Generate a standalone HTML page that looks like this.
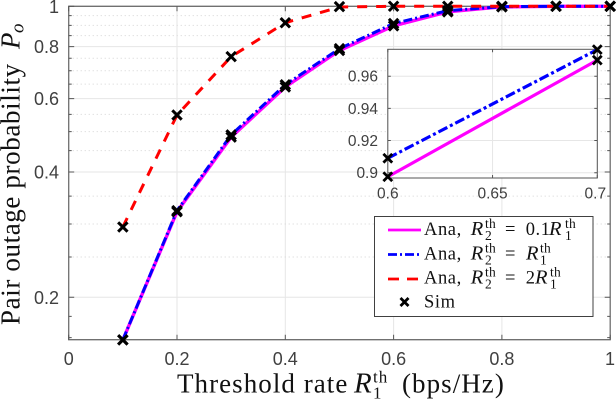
<!DOCTYPE html>
<html>
<head>
<meta charset="utf-8">
<style>
html,body{margin:0;padding:0;background:#fff;width:616px;height:400px;overflow:hidden}
svg{display:block}
.tick{font-family:"Liberation Sans",sans-serif;font-size:18px;fill:#404040}
.math{font-family:"Liberation Serif",serif;fill:#111}
.i{font-style:italic}
.leg{font-size:18.5px;letter-spacing:.6px}
.sm{font-size:13.5px;letter-spacing:.2px}
.r{font-size:20.5px}
</style>
</head>
<body>
<svg id="chart" xmlns="http://www.w3.org/2000/svg" width="616" height="400" viewBox="0 0 616 400">
<rect width="616" height="400" fill="#fff"/>
<g id="main"></g>
<g id="inset"></g>
<text class="math" y="392.7" font-size="27" letter-spacing="1.05"><tspan x="177">Threshold rate</tspan><tspan class="i" x="354" font-size="29">R</tspan><tspan font-size="17" x="373" y="398.3">1</tspan><tspan font-size="17" x="373" y="382.5">th</tspan><tspan x="402" y="392.7">(bps/Hz)</tspan></text>
<text class="math" transform="translate(19.3,325) rotate(-90)" font-size="27" letter-spacing="0.62"><tspan x="0" y="0">Pair outage probability</tspan><tspan class="i" x="276" y="0">P</tspan><tspan class="i" font-size="19" x="292" y="4">o</tspan></text>
<g>
<rect x="374.5" y="216.5" width="218.5" height="100" fill="#fff" stroke="#404040" stroke-width="1"/>
<line x1="388" x2="421" y1="230" y2="230" stroke="#ff00ff" stroke-width="2.8"/>
<line x1="388" x2="421" y1="254.5" y2="254.5" stroke="#0000ff" stroke-width="2.8" stroke-dasharray="9 3 2 3"/>
<line x1="388" x2="421" y1="279" y2="279" stroke="#ff0000" stroke-width="2.8" stroke-dasharray="11 8"/>
<path d="M400.5 298l8 8M408.5 298l-8 8" stroke="#000" stroke-width="2.8" fill="none"/>
<text class="math leg" y="235"><tspan x="424">Ana,</tspan><tspan class="i r" x="470.7">R</tspan><tspan class="sm" x="485" y="240">2</tspan><tspan class="sm" x="485" y="228">th</tspan><tspan x="505" y="235">=</tspan><tspan x="525.7">0.1</tspan><tspan class="i r" x="549">R</tspan><tspan class="sm" x="565" y="240">1</tspan><tspan class="sm" x="565" y="228">th</tspan></text>
<text class="math leg" y="259.3"><tspan x="424">Ana,</tspan><tspan class="i r" x="470.7">R</tspan><tspan class="sm" x="485" y="264.3">2</tspan><tspan class="sm" x="485" y="252.3">th</tspan><tspan x="505" y="259.3">=</tspan><tspan class="i r" x="526">R</tspan><tspan class="sm" x="540" y="264.3">1</tspan><tspan class="sm" x="540" y="252.3">th</tspan></text>
<text class="math leg" y="283.3"><tspan x="424">Ana,</tspan><tspan class="i r" x="470.7">R</tspan><tspan class="sm" x="485" y="288.3">2</tspan><tspan class="sm" x="485" y="276.3">th</tspan><tspan x="505" y="283.3">=</tspan><tspan x="525.7">2</tspan><tspan class="i r" x="535">R</tspan><tspan class="sm" x="550" y="288.3">1</tspan><tspan class="sm" x="550" y="276.3">th</tspan></text>
<text class="math leg" x="424" y="307.7">Sim</text>
</g>
</svg>
<script>
const xValues = [0.1, 0.2, 0.3, 0.4, 0.5, 0.6, 0.7, 0.8, 0.9, 1.0];
const anaTenth = [0.158, 0.321, 0.485, 0.640, 0.783, 0.8975, 0.970, 0.997, 1, 1];
const anaEqual = [0.158, 0.323, 0.491, 0.648, 0.791, 0.909, 0.9765, 0.998, 1, 1];
const anaDouble = [0.295, 0.548, 0.757, 0.913, 0.996, 1, 1, 1, 1, 1];
const simTenth = [0.158, 0.321, 0.485, 0.640, 0.783, 0.8975, 0.970, 0.997, 1, 1];
const simEqual = [0.158, 0.323, 0.491, 0.648, 0.791, 0.909, 0.9765, 0.998, 1, 1];
const simDouble = [0.295, 0.548, 0.757, 0.913, 0.998, 1, 1, 1, 1, 1];
const mainXTicks = [0, 0.2, 0.4, 0.6, 0.8, 1];
const mainYTicks = [0.2, 0.4, 0.6, 0.8, 1];
const mainYMinor = [0.25, 0.3, 0.35, 0.45, 0.5, 0.55, 0.65, 0.7, 0.75, 0.85, 0.9, 0.95];
const mainYMinorTickOnly = [0.16, 0.18];
const insetXTicks = [0.6, 0.65, 0.7];
const insetYTicks = [0.9, 0.92, 0.94, 0.96];

const NS = 'http://www.w3.org/2000/svg';
function el(parent, tag, attrs, text) {
  const e = document.createElementNS(NS, tag);
  for (const k in attrs) e.setAttribute(k, attrs[k]);
  if (text !== undefined) e.textContent = text;
  parent.appendChild(e);
  return e;
}
const mL = 68.7, mR = 610.2, mT = 6.3, mB = 339.7;
const mx = v => mL + v * (mR - mL);
const my = v => mT - Math.log10(v) * 416.3;
const iL = 387.8, iR = 597.3, iT = 49.3, iB = 178;
const ix = v => iL + (v - 0.6) / 0.1 * (iR - iL);
const iy = v => 172.7 - (v - 0.9) / 0.02 * 32.17;

const main = document.getElementById('main');
const inset = document.getElementById('inset');

mainXTicks.forEach(t => {
  const g = el(main, 'line', {x1: mx(t), x2: mx(t), y1: mT, y2: mB, stroke: '#e6e6e6', 'stroke-width': 1});
  
  
});
mainYTicks.forEach(t => {
  const g = el(main, 'line', {x1: mL, x2: mR, y1: my(t), y2: my(t), stroke: '#e6e6e6', 'stroke-width': 1});
  
  
});
mainYMinor.forEach(t => {
  const g = el(main, 'line', {x1: mL, x2: mR, y1: my(t), y2: my(t), stroke: '#d4d4d4', 'stroke-width': 1, 'stroke-dasharray': '1 3'});
  
  
});

const frame = el(main, 'path', {d: `M${mL} ${mT}H${mR}V${mB}H${mL}Z`, fill: 'none', stroke: '#707070', 'stroke-width': 1.3});



mainXTicks.forEach(t => {
  const k = el(main, 'path', {d: `M${mx(t)} ${mB}v-5M${mx(t)} ${mT}v5`, stroke: '#555', 'stroke-width': 1, fill: 'none'});
  
  
  const l = el(main, 'text', {class: 'tick', x: t === 1 ? 610 : mx(t), y: 365, 'text-anchor': 'middle'}, String(t));
  
  
});
mainYTicks.forEach(t => {
  const k = el(main, 'path', {d: `M${mL} ${my(t)}h5.5M${mR} ${my(t)}h-5.5`, stroke: '#555', 'stroke-width': 1, fill: 'none'});
  
  
  const l = el(main, 'text', {class: 'tick', x: 59, y: t === 1 ? 13 : my(t) + 6.5, 'text-anchor': 'end'}, String(t));
  
  
});
mainYMinor.concat(mainYMinorTickOnly).forEach(t => {
  const k = el(main, 'path', {d: `M${mL} ${my(t)}h3M${mR} ${my(t)}h-3`, stroke: '#555', 'stroke-width': 1, fill: 'none'});
  
  
});

function points(xs, ys, fx, fy) {
  return xs.map((x, i) => fx(x) + ',' + fy(ys[i])).join(' ');
}
const styles = [
  {name: 'series-ana-tenth', vals: anaTenth, color: '#ff00ff', dash: '', width: 3.4},
  {name: 'series-ana-equal', vals: anaEqual, color: '#0000ff', dash: '9 3 2 3', width: 3},
  {name: 'series-ana-double', vals: anaDouble, color: '#ff0000', dash: '10 9', width: 3}
];
styles.forEach(s => {
  const p = el(main, 'polyline', {points: points(xValues, s.vals, mx, my), fill: 'none', stroke: s.color, 'stroke-width': s.width, 'stroke-dasharray': s.dash});
  
  
});
function marker(parent, x, y, r, w) {
  const m = el(parent, 'path', {d: `M${x - r} ${y - r}L${x + r} ${y + r}M${x + r} ${y - r}L${x - r} ${y + r}`, stroke: '#000', 'stroke-width': w, fill: 'none'});
  
  
}
[simTenth, simEqual, simDouble].forEach(arr => {
  xValues.forEach((x, i) => marker(main, mx(x), my(arr[i]), 4.7, 3));
});

/* inset */
const bg = el(inset, 'rect', {x: iL, y: iT, width: iR - iL, height: iB - iT, fill: '#fff'});


insetXTicks.forEach(t => {
  const g = el(inset, 'line', {x1: ix(t), x2: ix(t), y1: iT, y2: iB, stroke: '#e6e6e6', 'stroke-width': 1});
  
  
  const k = el(inset, 'path', {d: `M${ix(t)} ${iB}v-3M${ix(t)} ${iT}v3`, stroke: '#555', 'stroke-width': 1, fill: 'none'});
  
  
  const l = el(inset, 'text', {class: 'tick', x: t === 0.7 ? ix(t) - 2 : ix(t), y: 198.5, 'text-anchor': 'middle', style: 'font-size:15.5px'}, String(t));
  
  
});
insetYTicks.forEach(t => {
  const g = el(inset, 'line', {x1: iL, x2: iR, y1: iy(t), y2: iy(t), stroke: '#e6e6e6', 'stroke-width': 1});
  
  
  const k = el(inset, 'path', {d: `M${iL} ${iy(t)}h3M${iR} ${iy(t)}h-3`, stroke: '#555', 'stroke-width': 1, fill: 'none'});
  
  
  const l = el(inset, 'text', {class: 'tick', x: 378, y: iy(t) + 5.5, 'text-anchor': 'end', style: 'font-size:15.5px'}, String(t));
  
  
});
const iframeBox = el(inset, 'rect', {x: iL, y: iT, width: iR - iL, height: iB - iT, fill: 'none', stroke: '#555', 'stroke-width': 1});



const i6 = xValues.indexOf(0.6), i7 = xValues.indexOf(0.7);
const insetXs = [xValues[i6], xValues[i7]];
const lineT = el(inset, 'polyline', {points: points(insetXs, [anaTenth[i6], anaTenth[i7]], ix, iy), fill: 'none', stroke: '#ff00ff', 'stroke-width': 3.2});


const lineE = el(inset, 'polyline', {points: points(insetXs, [anaEqual[i6], anaEqual[i7]], ix, iy), fill: 'none', stroke: '#0000ff', 'stroke-width': 3.2, 'stroke-dasharray': '10 3 3 3'});


[simTenth, simEqual].forEach(arr => {
  [i6, i7].forEach(i => marker(inset, ix(xValues[i]), iy(arr[i]), 4.4, 2.8));
});
</script>
</body>
</html>
